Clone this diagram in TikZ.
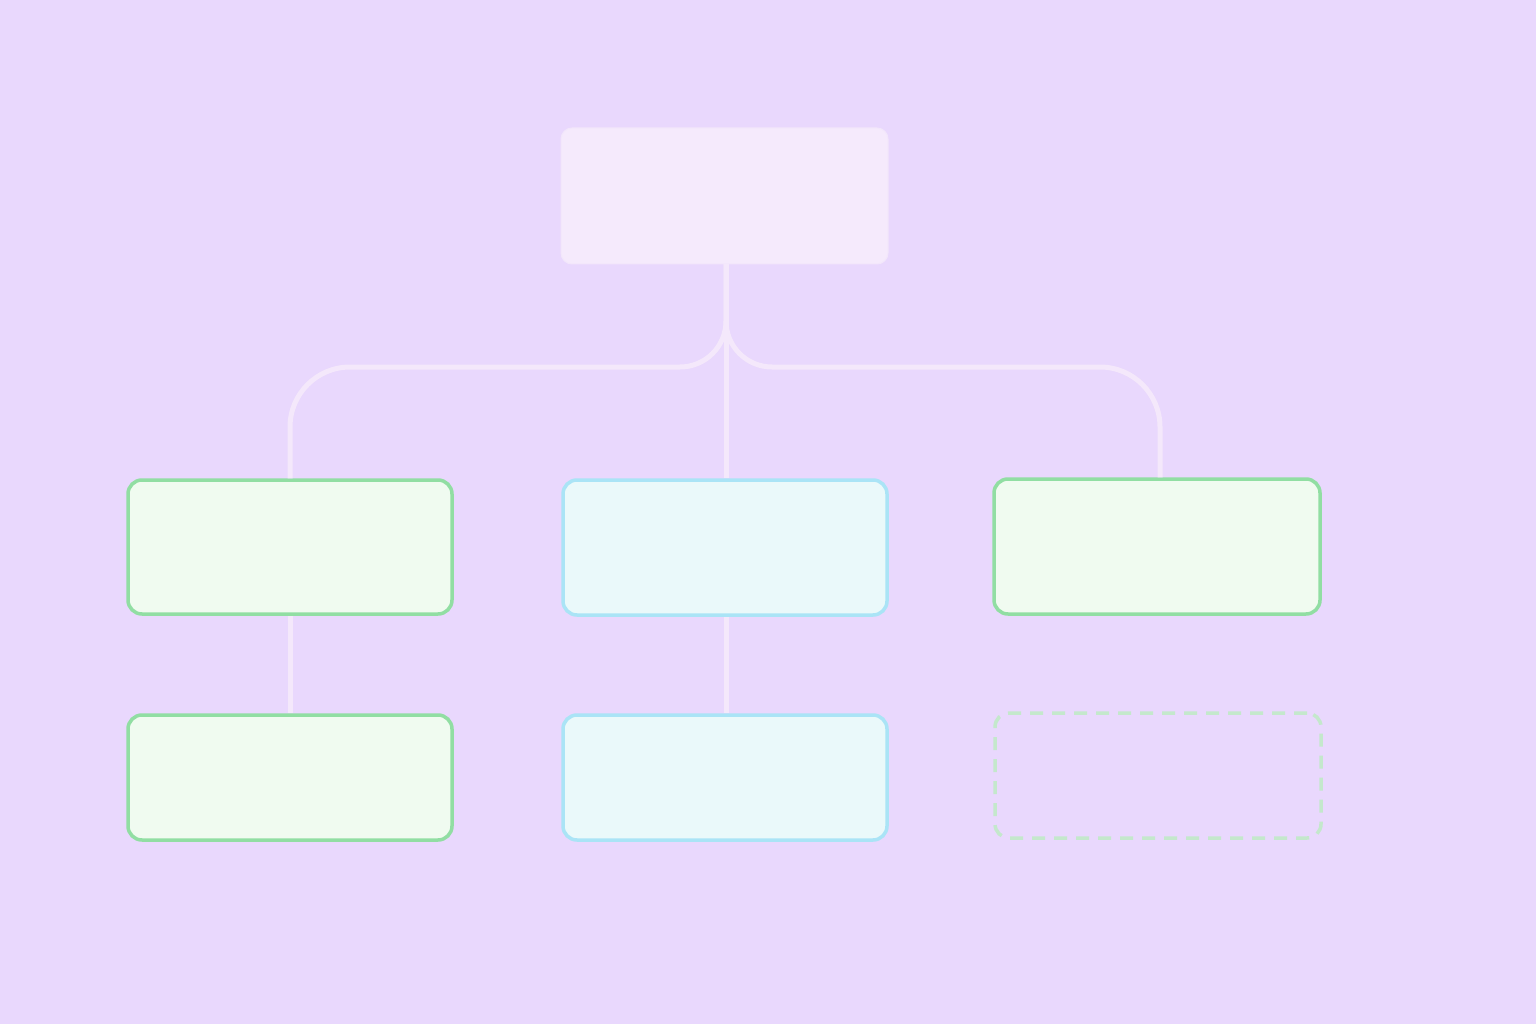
\documentclass[tikz,border=0pt]{standalone}
\usetikzlibrary{positioning}
\definecolor{bgc}{RGB}{233,216,253}
\definecolor{topfill}{RGB}{245,234,252}
\definecolor{topdraw}{RGB}{242,230,251}
\definecolor{conncol}{RGB}{244,232,251}
\definecolor{gfill}{RGB}{240,251,240}
\definecolor{gdraw}{RGB}{145,222,163}
\definecolor{bfill}{RGB}{234,249,250}
\definecolor{bdraw}{RGB}{170,228,246}
\definecolor{ddraw}{RGB}{196,232,204}
\tikzset{
  box/.style={rectangle, rounded corners=14pt, line width=3.5pt, minimum width=324pt, inner sep=0pt},
  topbox/.style={rectangle, rounded corners=11pt, fill=topfill, draw=topdraw, line width=1pt, minimum width=327pt, minimum height=136pt, inner sep=0pt},
  greenbox/.style={box, fill=gfill, draw=gdraw},
  bluebox/.style={box, fill=bfill, draw=bdraw},
  dashbox/.style={box, draw=ddraw, line width=3.5pt, dash pattern=on 13pt off 9pt},
  conn/.style={draw=conncol, line width=5pt}
}
\begin{document}
\begin{tikzpicture}[x=1pt,y=-1pt]
\fill[bgc] (0,0) rectangle (1536,1024);
\useasboundingbox (0,0) rectangle (1536,1024);
\node[topbox] (top) at (724.5,196) {};
\node[greenbox, minimum height=134pt] (L1) at (290,547) {};
\node[bluebox, minimum height=135pt] (M1) at (725,547.5) {};
\node[greenbox, minimum width=326pt, minimum height=135pt] (R1) at (1157,546.5) {};
\node[greenbox, minimum height=125pt] (L2) at (290,777.5) {};
\node[bluebox, minimum height=125pt] (M2) at (725,777.5) {};
\node[dashbox, minimum width=326pt, minimum height=125pt] (R2) at (1158,775.5) {};
\coordinate (tr) at (726,264);
\coordinate (jl) at (290,367);
\coordinate (jr) at (1160,367);
\draw[conn] (tr) -- (M1.north -| tr);
\draw[conn, rounded corners=46pt] (tr) -- (tr |- jl) [rounded corners=60pt] -- (jl) -- (L1.north);
\draw[conn, rounded corners=46pt] (tr) -- (tr |- jr) [rounded corners=60pt] -- (jr) -- (jr |- R1.north);
\draw[conn] (L1.south) -- (L2.north);
\draw[conn] (M1.south -| tr) -- (M2.north -| tr);
\end{tikzpicture}
\end{document}
